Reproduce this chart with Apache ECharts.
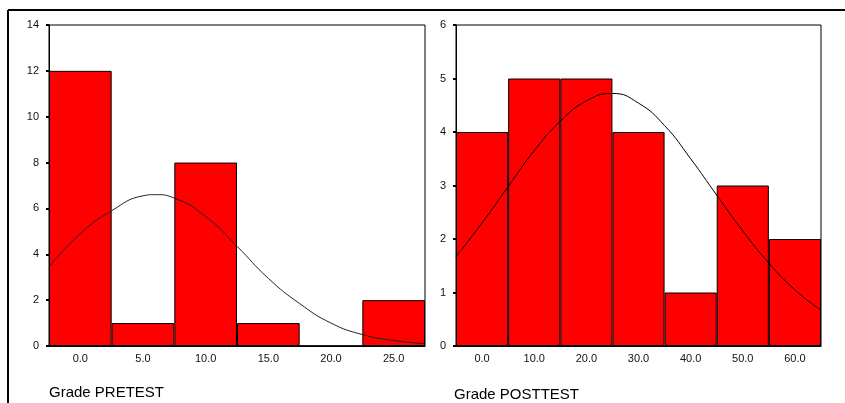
<!DOCTYPE html>
<html>
<head>
<meta charset="utf-8">
<script src="https://cdn.jsdelivr.net/npm/echarts@6/dist/echarts.min.js"></script>
<style>
  html, body { margin: 0; padding: 0; background: #fff; }
  #main { width: 845px; height: 403px; }
</style>
</head>
<body>
<div id="main"></div>
<script>
// 前测直方图
var preCats = ['0.0', '5.0', '10.0', '15.0', '20.0', '25.0']
var preCounts = [12, 1, 8, 1, 0, 2]
var preCurveX = [-2.5, 0, 2.5, 5, 6, 7.5, 10, 12.5, 15, 17.5, 20, 22.5, 25, 27.5]
var preCurveY = [3.45, 4.9, 5.9, 6.55, 6.6, 6.45, 5.65, 4.35, 2.95, 1.85, 1.0, 0.5, 0.24, 0.1]

// 后测直方图
var postCats = ['0.0', '10.0', '20.0', '30.0', '40.0', '50.0', '60.0']
var postCounts = [4, 5, 5, 4, 1, 3, 2]
var postCurveX = [-5, 0, 5, 10, 15, 20, 25, 30, 35, 40, 45, 50, 55, 60, 65]
var postCurveY = [1.67, 2.3, 2.98, 3.65, 4.2, 4.58, 4.72, 4.54, 4.12, 3.5, 2.82, 2.15, 1.55, 1.05, 0.67]

var preTicks = [0, 2, 4, 6, 8, 10, 12, 14]
var postTicks = [0, 1, 2, 3, 4, 5, 6]

function pairs(xs, ys) {
  return xs.map(function (x, i) { return [x, ys[i]] })
}

var labelFont = { color: '#111', fontSize: 11, fontFamily: 'Liberation Sans' }

function catAxis(grid, cats) {
  return {
    type: 'category',
    gridIndex: grid,
    data: cats,
    boundaryGap: true,
    axisLine: { onZero: false, lineStyle: { color: '#000', width: 1 } },
    axisTick: { alignWithLabel: true, length: 3, lineStyle: { color: '#000', width: 2 } },
    axisLabel: Object.assign({ margin: 7 }, labelFont),
    splitLine: { show: false }
  }
}

function valXAxis(grid, min, max) {
  return { type: 'value', gridIndex: grid, min: min, max: max, show: false }
}

function yAxis(grid, ticks) {
  return {
    type: 'value',
    gridIndex: grid,
    min: ticks[0],
    max: ticks[ticks.length - 1],
    interval: ticks[1] - ticks[0],
    axisLine: { show: true, onZero: false, lineStyle: { color: '#000', width: 1 } },
    axisTick: { show: true, length: 3, lineStyle: { color: '#000', width: 2 } },
    axisLabel: Object.assign({ margin: 10 }, labelFont),
    splitLine: { show: false }
  }
}

var barStyle = { color: '#ff0000', borderColor: '#000', borderWidth: 1 }

var option = {
  backgroundColor: '#fff',
  animation: false,
  grid: [
    { left: 49, top: 25, width: 376, height: 321, show: true, borderColor: '#000', borderWidth: 1, backgroundColor: '#fff' },
    { left: 456, top: 25, width: 365, height: 321, show: true, borderColor: '#000', borderWidth: 1, backgroundColor: '#fff' }
  ],
  xAxis: [
    catAxis(0, preCats),
    valXAxis(0, -2.5, 27.5),
    catAxis(1, postCats),
    valXAxis(1, -5, 65)
  ],
  yAxis: [yAxis(0, preTicks), yAxis(1, postTicks)],
  graphic: [
    { type: 'line', shape: { x1: 8, y1: 10, x2: 845, y2: 10 }, style: { stroke: '#000', lineWidth: 2 } },
    { type: 'line', shape: { x1: 8, y1: 10, x2: 8, y2: 403 }, style: { stroke: '#000', lineWidth: 2 } },
    { type: 'text', left: 49, top: 385, style: { text: 'Grade PRETEST', fontSize: 15, fill: '#000', fontFamily: 'Liberation Sans' } },
    { type: 'text', left: 454, top: 387, style: { text: 'Grade POSTTEST', fontSize: 15, fill: '#000', fontFamily: 'Liberation Sans' } }
  ],
  series: [
    {
      type: 'bar', xAxisIndex: 0, yAxisIndex: 0,
      data: preCounts, barWidth: '100%', barCategoryGap: '0%',
      itemStyle: barStyle
    },
    {
      type: 'line', xAxisIndex: 1, yAxisIndex: 0,
      data: pairs(preCurveX, preCurveY), smooth: true, symbol: 'none',
      lineStyle: { color: '#222', width: 1 }
    },
    {
      type: 'bar', xAxisIndex: 2, yAxisIndex: 1,
      data: postCounts, barWidth: '100%', barCategoryGap: '0%',
      itemStyle: barStyle
    },
    {
      type: 'line', xAxisIndex: 3, yAxisIndex: 1,
      data: pairs(postCurveX, postCurveY), smooth: true, symbol: 'none',
      lineStyle: { color: '#000', width: 1 }
    }
  ]
}

var myChart = echarts.init(document.getElementById('main'))
myChart.setOption(option)
</script>
</body>
</html>
